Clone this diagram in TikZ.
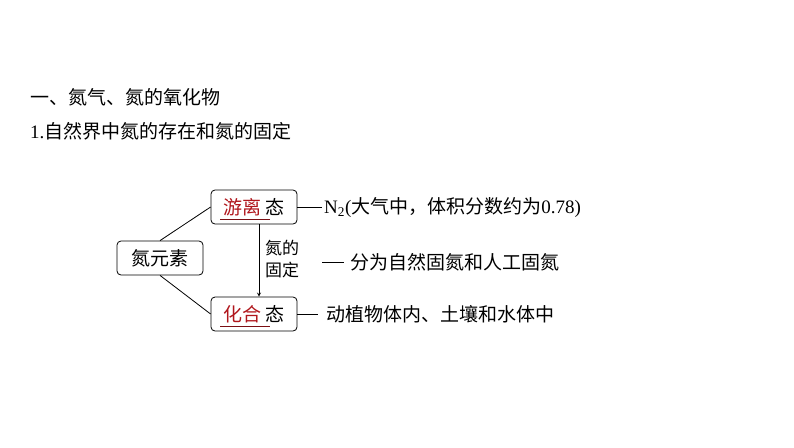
\documentclass[tikz,border=0pt]{standalone}
\usepackage{fontspec}
\newfontfamily\cjk{Noto Sans CJK SC}
\setmainfont{Liberation Serif}
\usetikzlibrary{calc}
\definecolor{dred}{HTML}{B0161C}
\newcommand{\lat}[1]{{\rmfamily #1}}
\begin{document}
\begin{tikzpicture}[x=1pt,y=-1pt,
  box/.style={draw,rounded corners=4pt,line width=0.8pt,minimum height=34pt,inner xsep=5pt},
  txt/.style={font=\fontsize{19}{22}\selectfont\cjk,inner sep=0pt,anchor=west},
  ln/.style={line width=0.8pt}]
\useasboundingbox (0,0) rectangle (794,447);
\node[txt] (h1) at (30,97) {一、氮气、氮的氧化物};
\node[txt] (h2) at (30,131) {\lat{1.}自然界中氮的存在和氮的固定};
\node[box,minimum width=86pt,font=\fontsize{19}{22}\selectfont\cjk] (n) at (160,258) {氮元素};
\node[box,minimum width=86pt,font=\fontsize{19}{22}\selectfont\cjk] (fy) at (254,207) {\textcolor{dred}{游离}\,态};
\node[box,minimum width=86pt,font=\fontsize{19}{22}\selectfont\cjk] (fh) at (254,314) {\textcolor{dred}{化合}\,态};
\draw[ln,dred!70!black] (220,219) -- (270,219);
\draw[ln,dred!70!black] (220,326) -- (270,326);
\draw[ln] (n.north) -- (fy.west);
\draw[ln] (n.south) -- (fh.west);
\draw[ln,-stealth] ($(fy.south)+(5,0)$) -- ($(fh.north)+(5,0)$);
\node[font=\fontsize{17}{21}\selectfont\cjk,align=left,anchor=west,inner sep=0pt] (g) at (265,259) {氮的\\[1pt]固定};
\coordinate (c1) at (322,207);
\coordinate (c2) at (318,314);
\node[txt] (t1) at (324,208) {\lat{N\textsubscript{2}(}大气中，体积分数约为\lat{0.78)}};
\node[txt] (t2) at (350,262) {分为自然固氮和人工固氮};
\node[txt] (t3) at (326,314) {动植物体内、土壤和水体中};
\coordinate (c3) at (322,262);
\draw[ln] (fy.east) -- (c1);
\draw[ln] (fh.east) -- (c2);
\draw[ln] (c3) -- ($(t2.west)+(-6,0)$);
\end{tikzpicture}
\end{document}
